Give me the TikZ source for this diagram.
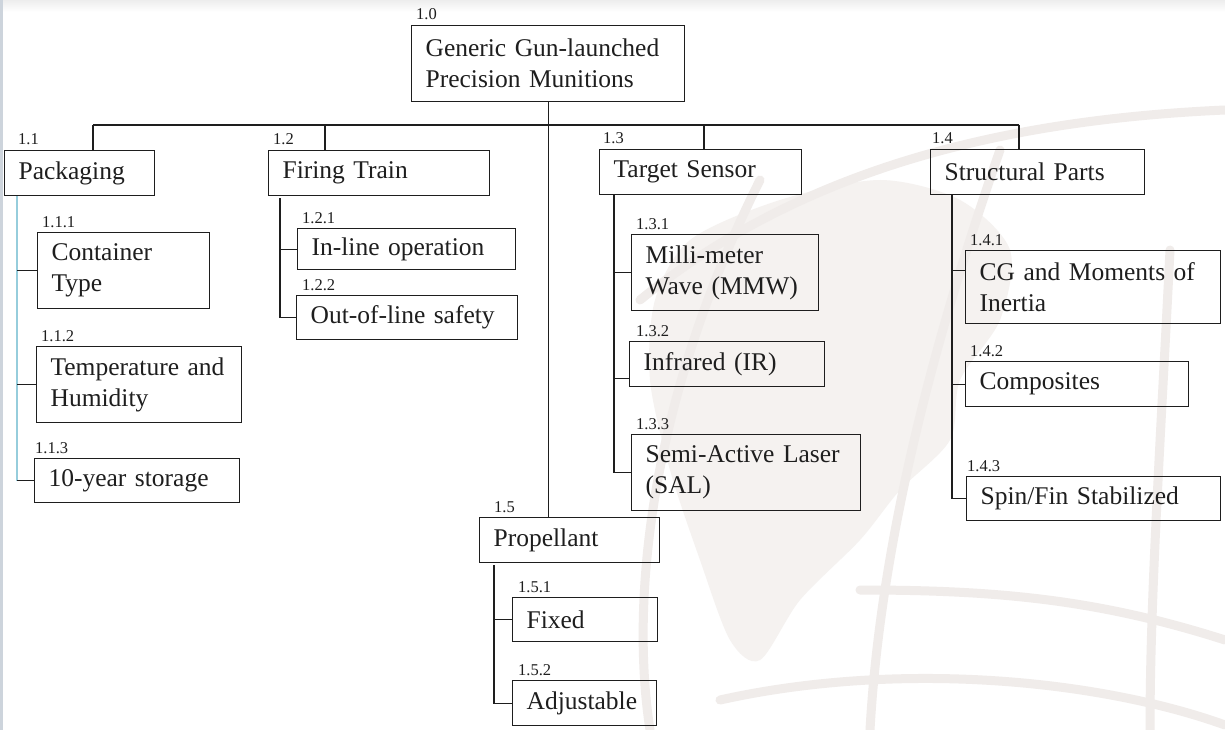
\documentclass[tikz,border=0pt]{standalone}
\usepackage{fontspec}
\setmainfont{Liberation Serif}
\definecolor{ink}{RGB}{30,30,30}
\definecolor{trunkblue}{RGB}{150,205,220}
\definecolor{landc}{RGB}{245,242,240}
\definecolor{gridc}{RGB}{240,236,234}
\definecolor{edgec}{RGB}{205,212,220}
\tikzset{
  box/.style={draw=ink, line width=1.2pt, rectangle, inner xsep=14pt, inner ysep=0pt, align=left,
    font=\fontsize{25.5}{31}\selectfont, text=ink},
  lbl/.style={inner sep=0pt, font=\fontsize{16.5}{18}\selectfont, text=ink},
  ln/.style={draw=ink, line width=1.2pt},
  lnblue/.style={draw=trunkblue, line width=1.2pt},
  globe/.style={draw=gridc, line width=9pt, line cap=round}
}
\newcommand\bx[8]{%
  \pgfmathsetmacro\bxw{#4-#2}\pgfmathsetmacro\bxh{#5-#3}\pgfmathsetmacro\bxt{#4-#2-28}%
  \node[box, minimum width=\bxw pt, minimum height=\bxh pt, text width=\bxt pt, anchor=north west] (#1) at (#2,#3) {#8};
  \node[lbl, anchor=base west] (#1-l) at ([shift={(#7,-5)}]#1.north west) {#6};}
\begin{document}
\begin{tikzpicture}[x=1pt,y=-1pt]
\useasboundingbox (0,0) rectangle (1225,730);
\fill[white] (0,0) rectangle (1225,730);
% faint globe watermark
\fill[landc] plot[smooth cycle] coordinates {(690,240) (780,200) (880,180) (960,200) (1010,250) (1000,320) (960,380) (950,440) (900,490) (860,540) (800,600) (760,660) (730,640) (700,560) (670,470) (650,380) (655,300)};
\path[globe] (760,180) .. controls (650,400) and (630,600) .. (650,730);
\path[globe] (1000,150) .. controls (930,350) and (880,550) .. (870,730);
\path[globe] (1170,250) .. controls (1160,450) and (1150,600) .. (1150,730);
\path[globe] (640,300) .. controls (800,170) and (1000,120) .. (1225,110);
\path[globe] (860,590) .. controls (1000,590) and (1100,600) .. (1225,640);
\path[globe] (720,700) .. controls (900,660) and (1100,680) .. (1225,725);
\fill[top color=gray!14, bottom color=white] (0,0) rectangle (1225,12);
\fill[edgec] (0,0) rectangle (3,730);
% boxes
\bx{root}{411}{25}{684}{101}{1.0}{5}{Generic Gun-launched\\Precision Munitions}
\bx{pack}{4}{150}{154}{195}{1.1}{14}{Packaging}
\bx{fire}{268}{150}{489}{195}{1.2}{5}{Firing Train}
\bx{targ}{599}{149}{801}{194}{1.3}{4}{Target Sensor}
\bx{struc}{930}{149}{1144}{194}{1.4}{2}{Structural Parts}
\bx{prop}{479}{517}{659}{562}{1.5}{15}{Propellant}
\bx{c111}{37}{232}{209}{308}{1.1.1}{5}{Container\\Type}
\bx{c112}{36}{346}{241}{422}{1.1.2}{5}{Temperature and\\Humidity}
\bx{c113}{34}{458}{239}{502}{1.1.3}{1}{10-year storage}
\bx{c121}{297}{228}{515}{269}{1.2.1}{5}{In-line operation}
\bx{c122}{296}{295}{517}{339}{1.2.2}{6}{Out-of-line safety}
\bx{c131}{631}{234}{818}{310}{1.3.1}{5}{Milli-meter\\Wave (MMW)}
\bx{c132}{629}{341}{824}{386}{1.3.2}{7}{Infrared (IR)}
\bx{c133}{631}{434}{860}{510}{1.3.3}{5}{Semi-Active Laser\\(SAL)}
\bx{c141}{965}{250}{1220}{323}{1.4.1}{5}{CG and Moments of\\Inertia}
\bx{c142}{965}{361}{1188}{406}{1.4.2}{5}{Composites}
\bx{c143}{966}{476}{1220}{520}{1.4.3}{1}{Spin/Fin Stabilized}
\bx{c151}{512}{597}{657}{641}{1.5.1}{6}{Fixed}
\bx{c152}{512}{680}{656}{725}{1.5.2}{6}{Adjustable}
% bus
\coordinate (b1) at (93,125);
\coordinate (b2) at (325,125);
\coordinate (b3) at (704,125);
\coordinate (b4) at (1019,125);
\draw[ln] (b1) -- (b4);
\draw[ln] (b1) -- (b1 |- pack.north);
\draw[ln] (b2) -- (b2 |- fire.north);
\draw[ln] (b3) -- (b3 |- targ.north);
\draw[ln] (b4) -- (b4 |- struc.north);
\draw[ln] (root.south) -- (root.south |- prop.north);
% trunks
\coordinate (t1) at ([xshift=13pt]pack.south west);
\draw[lnblue] (t1) -- (t1 |- c113.west);
\foreach \c in {c111,c112,c113} \draw[ln] (\c.west) -- (\c.west -| t1);
\coordinate (t2) at ([xshift=12pt,yshift=-2pt]fire.south west);
\draw[ln] (t2) |- (c122.west);
\draw[ln] (c121.west) -- (c121.west -| t2);
\coordinate (t3) at ([xshift=15pt]targ.south west);
\draw[ln] (t3) |- (c133.west);
\draw[ln] (c131.west) -- (c131.west -| t3);
\draw[ln] ([yshift=-14.5pt]c132.west) -- ([yshift=-14.5pt]c132.west -| t3);
\coordinate (t4) at ([xshift=22pt]struc.south west);
\draw[ln] (t4) |- (c143.west);
\draw[ln] ([yshift=16.5pt]c141.west) -- ([yshift=16.5pt]c141.west -| t4);
\draw[ln] (c142.west) -- (c142.west -| t4);
\coordinate (t5) at ([xshift=15pt,yshift=-2pt]prop.south west);
\draw[ln] (t5) |- (c152.west);
\draw[ln] (c151.west) -- (c151.west -| t5);
\end{tikzpicture}
\end{document}
